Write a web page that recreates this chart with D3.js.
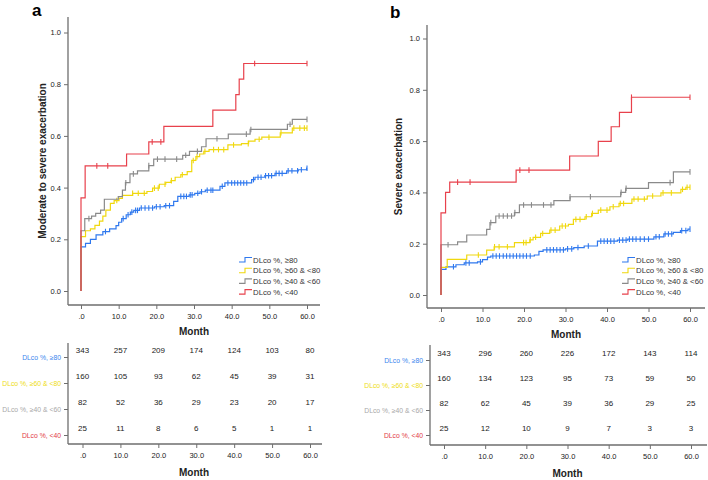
<!DOCTYPE html>
<html><head><meta charset="utf-8">
<script src="https://cdn.jsdelivr.net/npm/d3@7"></script>
<style>body{margin:0;background:#fff;} text{font-family:"Liberation Sans",Arial,sans-serif;}</style>
</head><body><svg id="c" width="708" height="480"></svg>
<script>
// ---------- data ----------
const groupLabels = ["DLco %, ≥80", "DLco %, ≥60 & <80", "DLco %, ≥40 & <60", "DLco %, <40"];
const xTicks = [0, 10, 20, 30, 40, 50, 60];
const yTicks = [0, 0.2, 0.4, 0.6, 0.8, 1.0];

// panel a : moderate to severe exacerbation  ([month, cumulative incidence])
const aBlueSteps = [[0,0],[0,0.171],[1.2,0.184],[2.5,0.2],[4,0.217],[5.8,0.23],[7.6,0.24],[9.3,0.253],[10,0.266],[10.8,0.28],[12,0.295],[13.1,0.305],[14,0.312],[15.5,0.321],[19.5,0.326],[22.1,0.33],[24.6,0.347],[25.7,0.366],[28.7,0.372],[30.2,0.378],[31.6,0.384],[33,0.39],[36.9,0.405],[38.2,0.418],[45.3,0.431],[46.2,0.44],[48.8,0.446],[51.5,0.455],[54.6,0.465],[57.7,0.469],[59.9,0.475],[60,0.475]];
const aYellowSteps = [[0,0],[0,0.21],[1.2,0.233],[2.5,0.24],[3.7,0.254],[4.9,0.27],[5.8,0.29],[6.6,0.313],[7.8,0.339],[8.8,0.35],[10.1,0.358],[11,0.37],[13.7,0.378],[17.5,0.385],[19,0.398],[20.8,0.413],[22.5,0.42],[23.9,0.427],[25,0.44],[26.5,0.45],[28.2,0.462],[29.4,0.505],[30.5,0.52],[31.5,0.53],[32.6,0.54],[34,0.547],[39,0.565],[42.6,0.57],[44.5,0.58],[46.2,0.587],[48,0.595],[52.9,0.612],[56.1,0.63],[60,0.63]];
const aGraySteps = [[0,0],[0,0.233],[1.0,0.28],[2.8,0.29],[3.9,0.3],[5.2,0.313],[6.2,0.355],[9.9,0.365],[11,0.39],[11.8,0.419],[13,0.453],[15,0.465],[18,0.485],[19.3,0.51],[27,0.525],[28.8,0.54],[32,0.558],[33.2,0.589],[39.1,0.607],[44.9,0.625],[54.8,0.645],[56.1,0.664],[60,0.664]];
const aRedSteps = [[0,0],[0,0.36],[1.1,0.484],[12.1,0.53],[18,0.577],[22,0.637],[35,0.7],[41.1,0.76],[42,0.82],[43.2,0.88],[60,0.88]];
const aBlueCensor = [6.5,11.2,12.5,13.5,14.5,15,16,17,18,19,20,21,22.5,23.5,26.5,27.3,28,29,29.5,31,32,33.5,34.5,35,37.5,39,40,40.8,41.6,42.4,43.2,44,45.8,47,47.8,49,49.8,50.6,51.8,52.6,53.4,55,56,57.5,58.5,60];
const aYellowCensor = [9.5,13.7,15.2,16.8,19.5,20.5,22.3,24,26.9,29.8,30.8,32.9,35.2,36.5,37.9,40.5,44.4,47.3,49.9,53.1,56.5,58.1,59.3,60];
const aGrayCensor = [2.1,11.9,13.9,18,20.3,22.3,25.4,27.8,30.9,36.1,43.9,45.1,55.5,60];
const aRedCensor = [4.2,7.1,18.9,21.2,46.1,60];
const aRiskBlue = [343,257,209,174,124,103,80];
const aRiskYellow = [160,105,93,62,45,39,31];
const aRiskGray = [82,52,36,29,23,20,17];
const aRiskRed = [25,11,8,6,5,1,1];

// panel b : severe exacerbation
const bBlueSteps = [[0,0],[0,0.1],[1.2,0.11],[3.6,0.118],[5.6,0.125],[8.8,0.129],[10,0.138],[11.2,0.148],[12,0.152],[22.5,0.156],[23.6,0.17],[24.6,0.176],[30,0.18],[32,0.185],[34.5,0.191],[37.7,0.21],[42.5,0.214],[45,0.218],[51.3,0.227],[53.7,0.238],[56,0.244],[57.7,0.251],[59.5,0.257],[60,0.257]];
const bYellowSteps = [[0,0],[0,0.108],[1.5,0.139],[6.2,0.156],[11,0.175],[12.8,0.188],[17.7,0.204],[21.4,0.215],[22.2,0.225],[24,0.24],[26.2,0.253],[28.6,0.269],[30.7,0.275],[31.9,0.295],[34.7,0.305],[36.3,0.318],[37.9,0.331],[40.7,0.344],[42.9,0.357],[46,0.374],[49.7,0.386],[53,0.398],[57.8,0.412],[59,0.42],[60,0.42]];
const bGraySteps = [[0,0],[0,0.196],[4,0.207],[6.2,0.234],[11,0.256],[11.8,0.282],[13.2,0.308],[17.7,0.321],[18.9,0.351],[27.2,0.368],[31.1,0.383],[43.3,0.4],[44.5,0.416],[50,0.438],[56,0.48],[60,0.48]];
const bRedSteps = [[0,0],[0,0.32],[1.1,0.4],[2.1,0.44],[18.1,0.487],[31,0.542],[37.9,0.599],[41,0.656],[43,0.712],[45.9,0.771],[60,0.771]];
const bBlueCensor = [3,6,6.8,9.5,12.5,13.3,14.1,15,15.8,16.6,17.4,18.2,19,19.8,20.6,21.5,25.5,26.3,27.1,27.9,28.7,29.5,30.5,31.5,33,35.5,38.5,39.3,40.1,40.9,41.7,43,43.8,44.6,45.4,46.2,47,48,49,50,51.8,52.6,54,54.8,55.6,58,59,60];
const bYellowCensor = [9,12.9,14,16,19.9,20.5,21.5,22.8,24.5,26.5,27.5,29.2,30,32.5,33.5,35,36.5,38.5,40,41.5,43.2,44,46.5,47.5,49,51,53.5,55.5,58.2,59.3,60];
const bGrayCensor = [1.7,12,14,15,16,17,17.8,19.9,21.8,24.7,26.5,31.1,36,43.4,44.6,55.2,60];
const bRedCensor = [4,7,19,21.2,45.9,60];
const bRiskBlue = [343,296,260,226,172,143,114];
const bRiskYellow = [160,134,123,95,73,59,50];
const bRiskGray = [82,62,45,39,36,29,25];
const bRiskRed = [25,12,10,9,7,3,3];

// ---------- styles ----------
const colors = ["#2f78ee", "#f0d80e", "#8a8a8a", "#e8414c"];
const textColors = ["#3a86ee", "#eedc10", "#a8a8a8", "#e23a44"];
const axisColor = "#6e6e6e";

const svg = d3.select("#c");

function drawPanel(cfg) {
  const g = svg.append("g");
  const x = d3.scaleLinear().domain([0, 60]).range(cfg.xRange);
  const y = d3.scaleLinear().domain([0, 1]).range(cfg.yRange);

  g.append("text").attr("x", cfg.letterPos[0]).attr("y", cfg.letterPos[1])
    .attr("font-size", 17).attr("font-weight", "bold").text(cfg.letter);

  g.append("line").attr("x1", cfg.axisX).attr("x2", cfg.axisX).attr("y1", cfg.axisTop).attr("y2", cfg.axisBottom)
    .attr("stroke", axisColor).attr("stroke-width", 1.3);
  g.append("line").attr("x1", cfg.axisX).attr("x2", cfg.axisRight).attr("y1", cfg.axisBottom).attr("y2", cfg.axisBottom)
    .attr("stroke", axisColor).attr("stroke-width", 1.3);

  const ya = g.append("g").attr("transform", `translate(${cfg.axisX},0)`)
    .call(d3.axisLeft(y).tickValues(yTicks).tickSize(4).tickSizeOuter(0).tickFormat(d3.format(".1f")));
  ya.select(".domain").remove();
  ya.selectAll("line").attr("stroke", axisColor);
  ya.selectAll("text").attr("font-size", 7.5).attr("fill", "#222").attr("font-family", "Liberation Sans, Arial, sans-serif");

  const xf = d => d === 0 ? ".0" : d3.format(".1f")(d);
  const xa = g.append("g").attr("transform", `translate(0,${cfg.axisBottom})`)
    .call(d3.axisBottom(x).tickValues(xTicks).tickSize(4).tickSizeOuter(0).tickFormat(xf));
  xa.select(".domain").remove();
  xa.selectAll("line").attr("stroke", axisColor);
  xa.selectAll("text").attr("font-size", 7.5).attr("fill", "#222").attr("dy", "0.95em").attr("font-family", "Liberation Sans, Arial, sans-serif");

  g.append("text").attr("x", (cfg.axisX + cfg.axisRight) / 2).attr("y", cfg.monthY)
    .attr("text-anchor", "middle").attr("font-size", 10).attr("font-weight", "bold").attr("fill", "#222").text("Month");
  g.append("text").attr("transform", `translate(${cfg.yLabelX},${(cfg.axisTop + cfg.axisBottom) / 2}) rotate(-90)`)
    .attr("text-anchor", "middle").attr("font-size", 10).attr("font-weight", "bold").attr("fill", "#222").text(cfg.ylabel);

  const line = d3.line().x(d => x(d[0])).y(d => y(d[1])).curve(d3.curveStepAfter);
  const bis = d3.bisector(d => d[0]).right;
  cfg.steps.forEach((s, i) => {
    g.append("path").datum(s).attr("d", line).attr("fill", "none")
      .attr("stroke", colors[i]).attr("stroke-width", 1.2);
    const cg = g.append("g");
    cfg.censor[i].forEach(t => {
      const idx = Math.max(0, bis(s, t) - 1);
      const v = s[Math.min(idx, s.length - 1)][1];
      cg.append("line").attr("x1", x(t)).attr("x2", x(t)).attr("y1", y(v) - 2.8).attr("y2", y(v) + 2.8)
        .attr("stroke", colors[i]).attr("stroke-width", 1.1);
    });
  });

  groupLabels.forEach((lab, i) => {
    const ly = cfg.legendY + i * 10.7;
    const lx = cfg.legendX;
    g.append("path").attr("d", `M${lx},${ly + 2}H${lx + 6}V${ly - 2.5}H${lx + 13}`)
      .attr("fill", "none").attr("stroke", colors[i]).attr("stroke-width", 1.1);
    g.append("text").attr("x", lx + 14).attr("y", ly).attr("dy", "0.35em")
      .attr("font-size", 7.8).attr("fill", "#333").text(lab);
  });

  const tx = d3.scaleLinear().domain([0, 60]).range(cfg.tableXRange);
  const ty = d3.scalePoint().domain(groupLabels).range(cfg.tableRowRange);
  g.append("line").attr("x1", cfg.tableAxisX).attr("x2", cfg.tableAxisX).attr("y1", cfg.tableTop).attr("y2", cfg.tableBottom)
    .attr("stroke", axisColor).attr("stroke-width", 1.3);
  g.append("line").attr("x1", cfg.tableAxisX).attr("x2", cfg.axisRight + 2).attr("y1", cfg.tableBottom).attr("y2", cfg.tableBottom)
    .attr("stroke", axisColor).attr("stroke-width", 1.3);
  const tya = g.append("g").attr("transform", `translate(${cfg.tableAxisX},0)`)
    .call(d3.axisLeft(ty).tickSize(4).tickSizeOuter(0));
  tya.select(".domain").remove();
  tya.selectAll("line").attr("stroke", axisColor);
  tya.selectAll("text").attr("font-size", 6.8).attr("font-family", "Liberation Sans, Arial, sans-serif")
    .attr("fill", (d, i) => textColors[i]);
  const txa = g.append("g").attr("transform", `translate(0,${cfg.tableBottom})`)
    .call(d3.axisBottom(tx).tickValues(xTicks).tickSize(4).tickSizeOuter(0).tickFormat(xf));
  txa.select(".domain").remove();
  txa.selectAll("line").attr("stroke", axisColor);
  txa.selectAll("text").attr("font-size", 7.5).attr("fill", "#222").attr("dy", "0.95em").attr("font-family", "Liberation Sans, Arial, sans-serif");
  g.append("text").attr("x", (cfg.tableAxisX + cfg.axisRight) / 2).attr("y", cfg.tableMonthY)
    .attr("text-anchor", "middle").attr("font-size", 10).attr("font-weight", "bold").attr("fill", "#222").text("Month");

  cfg.risk.forEach((row, i) => {
    row.forEach((n, j) => {
      g.append("text").attr("x", tx(xTicks[j])).attr("y", ty(groupLabels[i]) - 4)
        .attr("text-anchor", "middle").attr("font-size", 8).attr("fill", "#222").text(n);
    });
  });
}

drawPanel({
  letter: "a", letterPos: [32, 16], ylabel: "Moderate to severe exacerbation",
  xRange: [81, 307], yRange: [291, 32.5],
  axisX: 68, axisTop: 17, axisBottom: 305, axisRight: 320, monthY: 335, yLabelX: 46,
  steps: [aBlueSteps, aYellowSteps, aGraySteps, aRedSteps],
  censor: [aBlueCensor, aYellowCensor, aGrayCensor, aRedCensor],
  legendX: 239, legendY: 260,
  tableXRange: [82.5, 310], tableRowRange: [357, 435], tableAxisX: 68, tableTop: 343, tableBottom: 444, tableMonthY: 476,
  risk: [aRiskBlue, aRiskYellow, aRiskGray, aRiskRed]
});

drawPanel({
  letter: "b", letterPos: [390, 18], ylabel: "Severe exacerbation",
  xRange: [441, 690], yRange: [295, 38.5],
  axisX: 427, axisTop: 25, axisBottom: 308, axisRight: 705, monthY: 338, yLabelX: 402,
  steps: [bBlueSteps, bYellowSteps, bGraySteps, bRedSteps],
  censor: [bBlueCensor, bYellowCensor, bGrayCensor, bRedCensor],
  legendX: 622, legendY: 260,
  tableXRange: [444, 691], tableRowRange: [360, 435], tableAxisX: 430, tableTop: 345, tableBottom: 445, tableMonthY: 477,
  risk: [bRiskBlue, bRiskYellow, bRiskGray, bRiskRed]
});
</script></body></html>
